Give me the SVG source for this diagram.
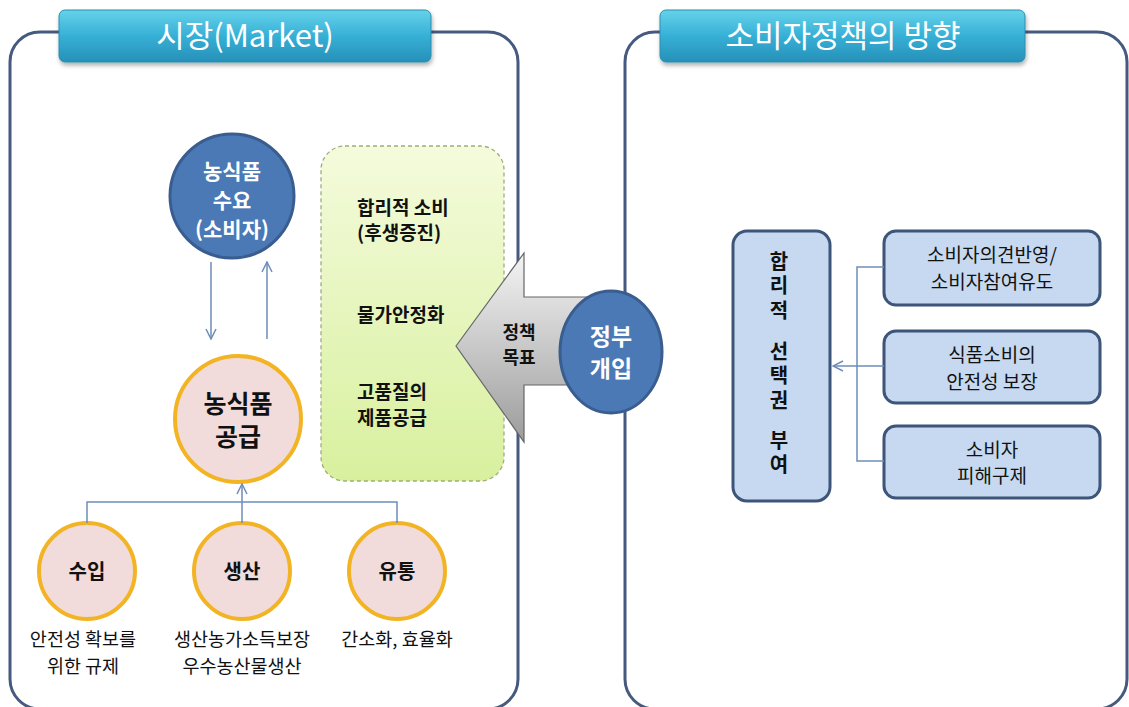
<svg xmlns="http://www.w3.org/2000/svg" width="1129" height="707" viewBox="0 0 1129 707">
<style>
.panel{fill:#fff;stroke:#46597f;stroke-width:3}
.banner{fill:url(#bn);stroke:#2a8db0;stroke-width:1}
.btxt{font-family:"Noto Sans CJK KR","Noto Sans",sans-serif;font-size:31px;fill:#fff;text-anchor:middle}
.k{font-family:"Noto Sans CJK KR","Noto Sans",sans-serif;fill:#111}
.kb{font-family:"Noto Sans CJK KR","Noto Sans",sans-serif;font-weight:bold;fill:#111}
.wb{font-family:"Noto Sans CJK KR","Noto Sans",sans-serif;font-weight:bold;fill:#fff;text-anchor:middle}
.c{text-anchor:middle}
.vt{font-family:"Noto Sans CJK KR","Noto Sans",sans-serif;font-weight:bold;fill:#111;font-size:20px;writing-mode:vertical-rl;letter-spacing:4.5px}
.blue{fill:#4b79b5;stroke:#3a5d8f;stroke-width:3}
.pink{fill:#f2dcdb;stroke:#f2b424;stroke-width:4}
.box{fill:#c6d9f0;stroke:#3d5579;stroke-width:3}
.ln{fill:none;stroke:#6e8dbb;stroke-width:1.5}
</style>
<defs>
<linearGradient id="bn" x1="0" y1="0" x2="0" y2="1">
<stop offset="0" stop-color="#66d2ea"/>
<stop offset="0.5" stop-color="#36b0d6"/>
<stop offset="1" stop-color="#2790b8"/>
</linearGradient>
<linearGradient id="gr" x1="0" y1="0" x2="0" y2="1">
<stop offset="0" stop-color="#f4fbdc"/>
<stop offset="1" stop-color="#d8f09e"/>
</linearGradient>
<linearGradient id="ar" x1="0" y1="0" x2="0" y2="1">
<stop offset="0" stop-color="#f4f4f4"/>
<stop offset="1" stop-color="#9c9c9c"/>
</linearGradient>
<filter id="sh" x="-10%" y="-20%" width="120%" height="150%">
<feDropShadow dx="1" dy="3" stdDeviation="2" flood-color="#000" flood-opacity="0.3"/>
</filter>
<marker id="ah" viewBox="0 0 12 12" refX="11" refY="6" markerWidth="12" markerHeight="12" markerUnits="userSpaceOnUse" orient="auto">
<path d="M1,1 L11,6 L1,11" fill="none" stroke="#6e8dbb" stroke-width="1.5"/>
</marker>
</defs>
<rect width="1129" height="707" fill="#fff"/>

<g id="market-panel">
<rect class="panel" x="10" y="32" width="508" height="677" rx="30"/>
<rect class="banner" x="59" y="10" width="372" height="52" rx="6" filter="url(#sh)"/>
<text class="btxt" x="245" y="47">시장(Market)</text>
</g>

<g id="policy-panel">
<rect class="panel" x="625" y="32" width="502" height="677" rx="30"/>
<rect class="banner" x="660" y="10" width="365" height="52" rx="6" filter="url(#sh)"/>
<text class="btxt" x="843" y="47">소비자정책의 방향</text>
</g>

<g id="goals">
<rect x="321" y="146" width="183" height="335" rx="24" fill="url(#gr)" stroke="#a0ac7c" stroke-width="1.3" stroke-dasharray="4 3"/>
<text class="kb" font-size="19"><tspan x="357" y="215">합리적 소비</tspan><tspan x="357" y="240">(후생증진)</tspan></text>
<text class="kb" font-size="19" x="357" y="322">물가안정화</text>
<text class="kb" font-size="19"><tspan x="357" y="399">고품질의</tspan><tspan x="357" y="425">제품공급</tspan></text>
</g>

<g id="policy-arrow">
<path d="M456,346 L524,253 L524,297 L605,297 L605,385 L524,385 L524,442 Z" fill="url(#ar)" stroke="#666" stroke-width="1.2"/>
<text class="kb c" font-size="18"><tspan x="519" y="339">정책</tspan><tspan x="519" y="364">목표</tspan></text>
</g>

<g id="gov">
<ellipse class="blue" cx="611" cy="352" rx="51" ry="61"/>
<text class="wb" font-size="23" x="611" y="345">정부</text>
<text class="wb" font-size="23" x="611" y="377">개입</text>
</g>

<g id="demand">
<circle class="blue" cx="232" cy="196" r="62"/>
<text class="wb" font-size="21" x="232" y="179">농식품</text>
<text class="wb" font-size="21" x="232" y="208">수요</text>
<text class="wb" font-size="21" x="232" y="237">(소비자)</text>
</g>

<g id="supply">
<circle class="pink" cx="238" cy="419" r="63"/>
<text class="kb c" font-size="25"><tspan x="238" y="413">농식품</tspan><tspan x="238" y="446">공급</tspan></text>
</g>

<g id="import">
<circle class="pink" cx="87" cy="571" r="48"/>
<text class="kb c" font-size="20" x="87" y="579">수입</text>
<text class="k c" font-size="18.5"><tspan x="83" y="646">안전성 확보를</tspan><tspan x="83" y="673">위한 규제</tspan></text>
</g>

<g id="production">
<circle class="pink" cx="242" cy="571" r="48"/>
<text class="kb c" font-size="20" x="242" y="579">생산</text>
<text class="k c" font-size="18.5"><tspan x="242" y="646">생산농가소득보장</tspan><tspan x="242" y="673">우수농산물생산</tspan></text>
</g>

<g id="distribution">
<circle class="pink" cx="397" cy="571" r="48"/>
<text class="kb c" font-size="20" x="397" y="579">유통</text>
<text class="k c" font-size="18.5" x="397" y="646">간소화, 효율화</text>
</g>

<g id="choice">
<rect class="box" x="733" y="231" width="97" height="270" rx="14"/>
<text class="vt" x="779" y="251">합리적</text>
<text class="vt" x="779" y="341">선택권</text>
<text class="vt" x="779" y="430">부여</text>
</g>

<g id="opinion">
<rect class="box" x="884" y="231" width="216" height="74" rx="12"/>
<text class="k c" font-size="19"><tspan x="992" y="262">소비자의견반영/</tspan><tspan x="992" y="289">소비자참여유도</tspan></text>
</g>

<g id="safety">
<rect class="box" x="884" y="331" width="216" height="72" rx="12"/>
<text class="k c" font-size="19"><tspan x="992" y="362">식품소비의</tspan><tspan x="992" y="389">안전성 보장</tspan></text>
</g>

<g id="relief">
<rect class="box" x="884" y="426" width="216" height="72" rx="12"/>
<text class="k c" font-size="19"><tspan x="992" y="457">소비자</tspan><tspan x="992" y="483">피해구제</tspan></text>
</g>

<g id="connectors">
<line class="ln" x1="211" y1="262" x2="211" y2="339" marker-end="url(#ah)"/>
<line class="ln" x1="267" y1="339" x2="267" y2="262" marker-end="url(#ah)"/>
<line class="ln" x1="242" y1="523" x2="242" y2="484" marker-end="url(#ah)"/>
<polyline class="ln" points="87,523 87,502 397,502 397,523"/>
<polyline class="ln" points="884,267 857,267 857,461 884,461"/>
<line class="ln" x1="884" y1="366" x2="833" y2="366" marker-end="url(#ah)"/>
</g>
</svg>
